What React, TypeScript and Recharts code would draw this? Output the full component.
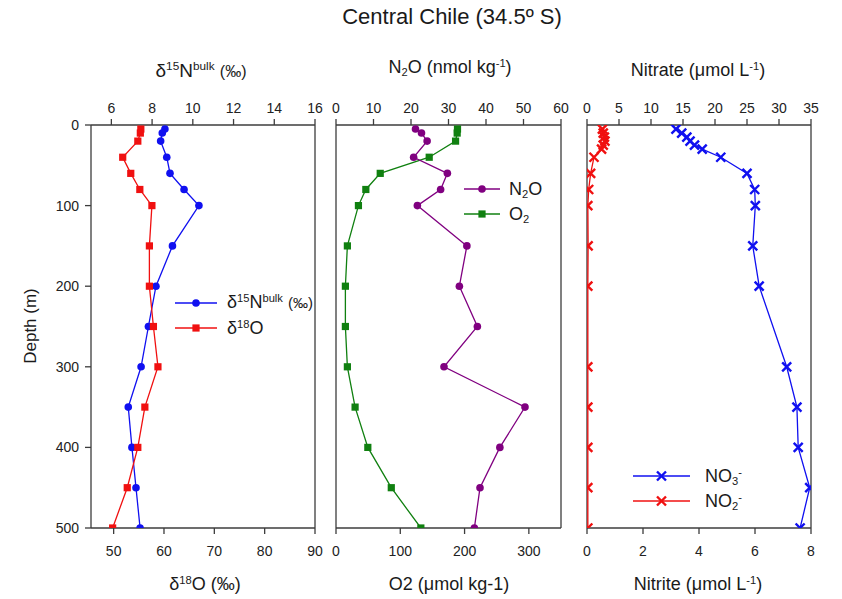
import React from 'react';
import { ScatterChart, Scatter, XAxis, YAxis, ReferenceLine, Legend } from 'recharts';

// ---------- data ----------
const depthsIsotope = [5, 10, 20, 40, 60, 80, 100, 150, 200, 250, 300, 350, 400, 450, 500];
const d15NBulk = [8.63, 8.5, 8.42, 8.72, 8.88, 9.57, 10.3, 9.0, 8.19, 7.82, 7.46, 6.83, 7.01, 7.21, 7.41];
const d18O = [55.4, 55.3, 54.8, 51.8, 53.4, 55.2, 57.6, 57.1, 57.1, 57.9, 58.8, 56.2, 54.8, 52.7, 49.8];

const depthsGas = [5, 10, 20, 40, 60, 80, 100, 150, 200, 250, 300, 350, 400, 450, 500];
const n2o = [21.2, 22.8, 24.3, 20.7, 29.7, 27.9, 21.7, 34.9, 32.9, 37.7, 28.8, 50.4, 43.7, 38.4, 36.9];
const o2 = [189, 188.5, 186, 145, 68.8, 46.4, 34.9, 17.7, 14.6, 14.6, 17.7, 29.7, 49.5, 86, 132];

const depthsNutrient = [5, 10, 15, 20, 25, 30, 40, 60, 80, 100, 150, 200, 300, 350, 400, 450, 500];
const nitrate = [13.9, 14.8, 15.6, 16.1, 16.8, 18.0, 20.9, 25.0, 26.2, 26.3, 25.9, 26.9, 31.2, 32.8, 33.0, 34.8, 33.3];
const nitrite = [0.55, 0.58, 0.62, 0.64, 0.58, 0.52, 0.25, 0.13, 0.06, 0.03, 0.04, 0.03, 0.03, 0.03, 0.03, 0.03, 0.03];

const depthTicks = [0, 100, 200, 300, 400, 500];
const d15NTicks = [6, 8, 10, 12, 14, 16];
const d18OTicks = [50, 60, 70, 80, 90];
const n2oTicks = [0, 10, 20, 30, 40, 50, 60];
const o2Ticks = [0, 100, 200, 300];
const nitrateTicks = [0, 5, 10, 15, 20, 25, 30, 35];
const nitriteTicks = [0, 2, 4, 6, 8];

const toPoints = (depths: number[], values: number[]) => depths.map((d, i) => ({ d, v: values[i] }));

// ---------- styles ----------
const FONT = "Arial, 'Liberation Sans', Helvetica, sans-serif";
const AXIS_COLOR = '#3c3c3c';
const BLUE = '#1010f0';
const RED = '#f01010';
const PURPLE = '#800080';
const GREEN = '#108010';

const CHART_H = 599;
const MARGIN_TOP = 75;
const MARGIN_BOTTOM = 21;
const AXIS_H = 50;

const axisLine = { stroke: AXIS_COLOR, strokeWidth: 1.3 };
const tickStyle = { fontSize: 14, fill: '#222', fontFamily: FONT };

// ---------- markers ----------
const circleShape = (color: string) => (p: any) => <circle cx={p.cx} cy={p.cy} r={3.8} fill={color} />;
const squareShape = (color: string) => (p: any) => (
  <rect x={p.cx - 3.6} y={p.cy - 3.6} width={7.2} height={7.2} fill={color} />
);
const crossShape = (color: string) => (p: any) => (
  <path
    d={`M${p.cx - 4.5},${p.cy - 4.5}L${p.cx + 4.5},${p.cy + 4.5}M${p.cx - 4.5},${p.cy + 4.5}L${p.cx + 4.5},${p.cy - 4.5}`}
    stroke={color}
    strokeWidth={2.4}
    fill="none"
  />
);

// ---------- legend ----------
type LegendItem = { color: string; shape: (p: any) => React.ReactElement; label: React.ReactNode };

const makeLegend = (items: LegendItem[], lineLen: number, textGap: number) => () => (
  <div style={{ fontFamily: FONT, color: '#1a1a1a' }}>
    {items.map((it, i) => (
      <div key={i} style={{ display: 'flex', alignItems: 'center', height: 25, whiteSpace: 'nowrap' }}>
        <svg width={lineLen} height={14} style={{ overflow: 'visible' }}>
          <line x1={0} y1={7} x2={lineLen} y2={7} stroke={it.color} strokeWidth={1.3} />
          {it.shape({ cx: lineLen / 2, cy: 7 })}
        </svg>
        <span style={{ marginLeft: textGap, fontSize: 18, lineHeight: '20px' }}>{it.label}</span>
      </div>
    ))}
  </div>
);

const supStyle: React.CSSProperties = { fontSize: '0.62em', verticalAlign: '0.55em', lineHeight: 0 };
const subStyle: React.CSSProperties = { fontSize: '0.62em', verticalAlign: '-0.3em', lineHeight: 0 };

const Title = ({ x, y, size, children, rotate }: { x: number; y: number; size: number; children: React.ReactNode; rotate?: boolean }) => (
  <div
    style={{
      position: 'absolute',
      left: x,
      top: y,
      transform: `translate(-50%, -50%)${rotate ? ' rotate(-90deg)' : ''}`,
      whiteSpace: 'nowrap',
      fontSize: size,
      fontFamily: FONT,
      color: '#1a1a1a',
      lineHeight: 1,
    }}
  >
    {children}
  </div>
);

const chartMargin = (left: number, right: number) => ({ top: MARGIN_TOP, bottom: MARGIN_BOTTOM, left, right });

export default function App() {
  return (
    <div style={{ position: 'absolute', left: 0, top: 0, width: 842, height: 599, background: '#fff', fontFamily: FONT }}>
      {/* Panel 1 */}
      <div style={{ position: 'absolute', left: 0, top: 0 }}>
        <ScatterChart width={330} height={CHART_H} margin={chartMargin(31, 15)}>
          <XAxis xAxisId="top" orientation="top" type="number" dataKey="v" domain={[5, 16]} ticks={d15NTicks} interval={0}
            height={AXIS_H} axisLine={axisLine} tickLine={axisLine} tick={tickStyle} tickMargin={6} allowDataOverflow />
          <XAxis xAxisId="bottom" orientation="bottom" type="number" dataKey="v" domain={[45.5, 90]} ticks={d18OTicks} interval={0}
            height={AXIS_H} axisLine={axisLine} tickLine={axisLine} tick={tickStyle} tickMargin={12} allowDataOverflow />
          <YAxis type="number" dataKey="d" domain={[0, 500]} reversed ticks={depthTicks} interval={0} width={60}
            axisLine={axisLine} tickLine={axisLine} tick={tickStyle} tickMargin={6} allowDataOverflow />
          <ReferenceLine xAxisId="top" x={16} stroke={AXIS_COLOR} strokeWidth={1.3} />
          <Scatter name="d15N" xAxisId="top" data={toPoints(depthsIsotope, d15NBulk)} fill={BLUE}
            line={{ stroke: BLUE, strokeWidth: 1.3 }} shape={circleShape(BLUE)} isAnimationActive={false} />
          <Scatter name="d18O" xAxisId="bottom" data={toPoints(depthsIsotope, d18O)} fill={RED}
            line={{ stroke: RED, strokeWidth: 1.3 }} shape={squareShape(RED)} isAnimationActive={false} />
          <Legend
            verticalAlign="middle" align="center" layout="horizontal"
            wrapperStyle={{ left: 175, top: 290, width: 'auto' }}
            content={makeLegend(
              [
                { color: BLUE, shape: circleShape(BLUE), label: <>δ<span style={supStyle}>15</span>N<span style={supStyle}>bulk</span> <span style={{ fontSize: 15 }}>(‰)</span></> },
                { color: RED, shape: squareShape(RED), label: <>δ<span style={supStyle}>18</span>O</> },
              ],
              42,
              10,
            )}
          />
        </ScatterChart>
      </div>

      {/* Panel 2 */}
      <div style={{ position: 'absolute', left: 320, top: 0 }}>
        <ScatterChart width={255} height={CHART_H} margin={chartMargin(6, 14)}>
          <XAxis xAxisId="top" orientation="top" type="number" dataKey="v" domain={[0, 60]} ticks={n2oTicks} interval={0}
            height={AXIS_H} axisLine={axisLine} tickLine={axisLine} tick={tickStyle} tickMargin={6} allowDataOverflow />
          <XAxis xAxisId="bottom" orientation="bottom" type="number" dataKey="v" domain={[0, 350]} ticks={o2Ticks} interval={0}
            height={AXIS_H} axisLine={axisLine} tickLine={axisLine} tick={tickStyle} tickMargin={12} allowDataOverflow />
          <YAxis type="number" dataKey="d" domain={[0, 500]} reversed ticks={depthTicks} interval={0} width={10}
            axisLine={axisLine} tickLine={axisLine} tick={false} allowDataOverflow />
          <ReferenceLine xAxisId="top" x={60} stroke={AXIS_COLOR} strokeWidth={1.3} />
          <Scatter name="O2" xAxisId="bottom" data={toPoints(depthsGas, o2)} fill={GREEN}
            line={{ stroke: GREEN, strokeWidth: 1.3 }} shape={squareShape(GREEN)} isAnimationActive={false} />
          <Scatter name="N2O" xAxisId="top" data={toPoints(depthsGas, n2o)} fill={PURPLE}
            line={{ stroke: PURPLE, strokeWidth: 1.3 }} shape={circleShape(PURPLE)} isAnimationActive={false} />
          <Legend
            verticalAlign="middle" align="center" layout="horizontal"
            wrapperStyle={{ left: 144, top: 176, width: 'auto' }}
            content={makeLegend(
              [
                { color: PURPLE, shape: circleShape(PURPLE), label: <>N<span style={subStyle}>2</span>O</> },
                { color: GREEN, shape: squareShape(GREEN), label: <>O<span style={subStyle}>2</span></> },
              ],
              36,
              9,
            )}
          />
        </ScatterChart>
      </div>

      {/* Panel 3 */}
      <div style={{ position: 'absolute', left: 575, top: 0 }}>
        <ScatterChart width={267} height={CHART_H} margin={chartMargin(2, 31)}>
          <XAxis xAxisId="top" orientation="top" type="number" dataKey="v" domain={[0, 35]} ticks={nitrateTicks} interval={0}
            height={AXIS_H} axisLine={axisLine} tickLine={axisLine} tick={tickStyle} tickMargin={6} allowDataOverflow />
          <XAxis xAxisId="bottom" orientation="bottom" type="number" dataKey="v" domain={[0, 8]} ticks={nitriteTicks} interval={0}
            height={AXIS_H} axisLine={axisLine} tickLine={axisLine} tick={tickStyle} tickMargin={12} allowDataOverflow />
          <YAxis type="number" dataKey="d" domain={[0, 500]} reversed ticks={depthTicks} interval={0} width={10}
            axisLine={axisLine} tickLine={axisLine} tick={false} allowDataOverflow />
          <ReferenceLine xAxisId="top" x={35} stroke={AXIS_COLOR} strokeWidth={1.3} />
          <Scatter name="NO2" xAxisId="bottom" data={toPoints(depthsNutrient, nitrite)} fill={RED}
            line={{ stroke: RED, strokeWidth: 1.3 }} shape={crossShape(RED)} isAnimationActive={false} />
          <Scatter name="NO3" xAxisId="top" data={toPoints(depthsNutrient, nitrate)} fill={BLUE}
            line={{ stroke: BLUE, strokeWidth: 1.3 }} shape={crossShape(BLUE)} isAnimationActive={false} />
          <Legend
            verticalAlign="middle" align="center" layout="horizontal"
            wrapperStyle={{ left: 58, top: 463, width: 'auto' }}
            content={makeLegend(
              [
                { color: BLUE, shape: crossShape(BLUE), label: <>NO<span style={subStyle}>3</span><span style={supStyle}>-</span></> },
                { color: RED, shape: crossShape(RED), label: <>NO<span style={subStyle}>2</span><span style={supStyle}>-</span></> },
              ],
              57,
              15,
            )}
          />
        </ScatterChart>
      </div>

      {/* Titles */}
      <Title x={452} y={17} size={22}>Central Chile (34.5º S)</Title>
      <Title x={201} y={70} size={19}>δ<span style={supStyle}>15</span>N<span style={supStyle}>bulk</span> <span style={{ fontSize: 16 }}>(‰)</span></Title>
      <Title x={450} y={67} size={18}>N<span style={subStyle}>2</span>O (nmol kg<span style={supStyle}>-1</span>)</Title>
      <Title x={698} y={70} size={18}>Nitrate (μmol L<span style={supStyle}>-1</span>)</Title>
      <Title x={205} y={584} size={18}>δ<span style={supStyle}>18</span>O (‰)</Title>
      <Title x={449} y={584} size={18}>O2 (μmol kg-1)</Title>
      <Title x={698} y={584} size={18}>Nitrite (μmol L<span style={supStyle}>-1</span>)</Title>
      <Title x={30} y={326} size={17} rotate>Depth (m)</Title>
    </div>
  );
}
